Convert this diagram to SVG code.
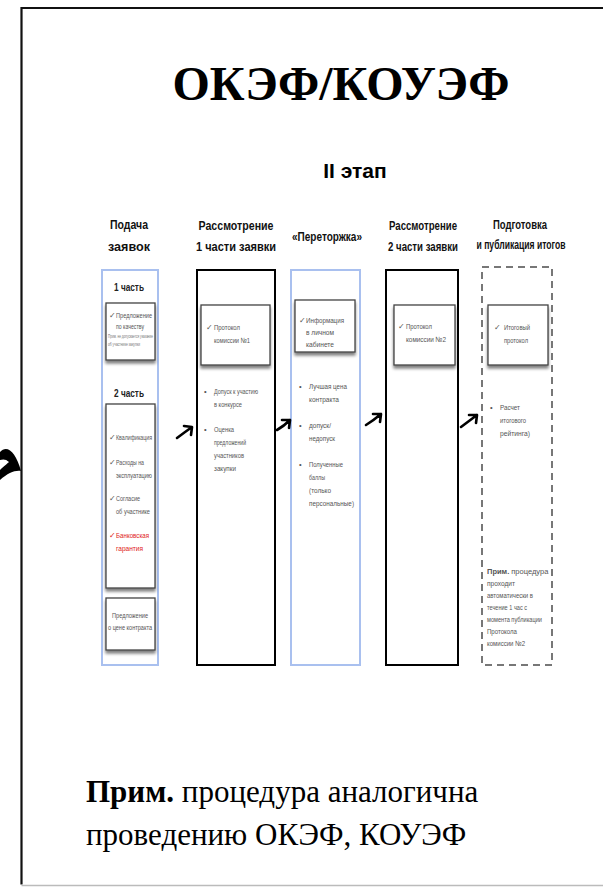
<svg xmlns="http://www.w3.org/2000/svg" width="603" height="890" viewBox="0 0 603 890">
<style>
.title{font-family:"Liberation Serif",serif;font-weight:bold;font-size:48px;fill:#000}
.stage{font-family:"Liberation Sans",sans-serif;font-weight:bold;font-size:21px;fill:#000}
.hdr{font-family:"Liberation Sans",sans-serif;font-weight:bold;font-size:13px;fill:#111;text-anchor:middle}
.sub{font-family:"Liberation Sans",sans-serif;font-weight:bold;font-size:10px;fill:#222;text-anchor:middle}
.t{font-family:"Liberation Sans",sans-serif;font-size:7.5px;fill:#555}
.ts{font-family:"Liberation Sans",sans-serif;font-size:5px;fill:#777}
.red{fill:#e02020}
.note{font-family:"Liberation Serif",serif;font-size:31px;fill:#000}
.blue{fill:#fff;stroke:#a9c0ef;stroke-width:2}
.black{fill:#fff;stroke:#000;stroke-width:2}
.dash{fill:#fff;stroke:#777;stroke-width:2;stroke-dasharray:7,5}
.inner{fill:#fff;stroke:#444;stroke-width:1.3;filter:url(#sh)}
.arr{fill:none;stroke:#000;stroke-width:2.6;stroke-linecap:round;stroke-linejoin:round}
</style>
<defs>
<filter id="sh" x="-10%" y="-10%" width="130%" height="130%">
<feGaussianBlur in="SourceAlpha" stdDeviation="1.5"/>
<feOffset dx="0" dy="3" result="b"/>
<feComponentTransfer><feFuncA type="linear" slope="0.5"/></feComponentTransfer>
<feMerge><feMergeNode/><feMergeNode in="SourceGraphic"/></feMerge>
</filter>
</defs>
<rect width="603" height="890" fill="#fff"/>
<path d="M604 8 H21.5 V884.5" fill="none" stroke="#111" stroke-width="2.2"/>
<path d="M21.5 885.5 H604" fill="none" stroke="#bbb" stroke-width="1.5"/>
<path d="M0 452 C7 444 16 452 21 471 C15 470 8 473 0 480 L0 470 C4 466 8 463 9 462 C6 459 3 459 0 460 Z" fill="#000"/>

<text class="title" x="341" y="100" text-anchor="middle">ОКЭФ/КОУЭФ</text>
<text class="stage" x="355" y="178" text-anchor="middle">II этап</text>

<g id="col1">
<text class="hdr" x="129" y="229" textLength="38" lengthAdjust="spacingAndGlyphs">Подача</text>
<text class="hdr" x="129" y="251" textLength="42" lengthAdjust="spacingAndGlyphs">заявок</text>
<rect class="blue" x="102" y="270" width="56" height="395"/>
<text class="sub" x="129" y="291" textLength="30" lengthAdjust="spacingAndGlyphs">1 часть</text>
<rect class="inner" x="106" y="303" width="49" height="57"/>
<text class="t" x="109" y="318">✓</text>
<text class="t" x="116" y="318" textLength="36" lengthAdjust="spacingAndGlyphs">Предложение</text>
<text class="t" x="116" y="329" textLength="28" lengthAdjust="spacingAndGlyphs">по качеству</text>
<text class="ts" x="108" y="338" textLength="45" lengthAdjust="spacingAndGlyphs">Прим. не допускается указание</text>
<text class="ts" x="108" y="346" textLength="32" lengthAdjust="spacingAndGlyphs">об участнике закупки</text>
<text class="sub" x="129" y="397" textLength="30" lengthAdjust="spacingAndGlyphs">2 часть</text>
<rect class="inner" x="106" y="404" width="49" height="184"/>
<text class="t" x="109" y="440">✓</text>
<text class="t" x="116" y="440" textLength="36" lengthAdjust="spacingAndGlyphs">Квалификация</text>
<text class="t" x="109" y="465">✓</text>
<text class="t" x="116" y="465" textLength="28" lengthAdjust="spacingAndGlyphs">Расходы на</text>
<text class="t" x="116" y="478" textLength="36" lengthAdjust="spacingAndGlyphs">эксплуатацию</text>
<text class="t" x="109" y="501">✓</text>
<text class="t" x="116" y="501" textLength="24" lengthAdjust="spacingAndGlyphs">Согласие</text>
<text class="t" x="116" y="514" textLength="34" lengthAdjust="spacingAndGlyphs">об участнике</text>
<text class="t red" x="109" y="538">✓</text>
<text class="t red" x="116" y="538" textLength="33" lengthAdjust="spacingAndGlyphs">Банковская</text>
<text class="t red" x="116" y="551" textLength="27" lengthAdjust="spacingAndGlyphs">гарантия</text>
<rect class="inner" x="106" y="598" width="49" height="52"/>
<text class="t" x="130" y="618" text-anchor="middle" textLength="36" lengthAdjust="spacingAndGlyphs">Предложение</text>
<text class="t" x="130" y="630" text-anchor="middle" textLength="44" lengthAdjust="spacingAndGlyphs">о цене контракта</text>
</g>

<g id="col2">
<text class="hdr" x="236" y="230" textLength="75" lengthAdjust="spacingAndGlyphs">Рассмотрение</text>
<text class="hdr" x="236" y="251" textLength="80" lengthAdjust="spacingAndGlyphs">1 части заявки</text>
<rect class="black" x="197" y="270" width="78" height="395"/>
<rect class="inner" x="201" y="305" width="69" height="60"/>
<text class="t" x="206" y="330">✓</text>
<text class="t" x="214" y="330" textLength="26" lengthAdjust="spacingAndGlyphs">Протокол</text>
<text class="t" x="214" y="343" textLength="36" lengthAdjust="spacingAndGlyphs">комиссии №1</text>
<text class="t" x="204" y="394">•</text>
<text class="t" x="214" y="394" textLength="44" lengthAdjust="spacingAndGlyphs">Допуск к участию</text>
<text class="t" x="214" y="407" textLength="28" lengthAdjust="spacingAndGlyphs">в конкурсе</text>
<text class="t" x="204" y="432">•</text>
<text class="t" x="214" y="432" textLength="20" lengthAdjust="spacingAndGlyphs">Оценка</text>
<text class="t" x="214" y="445" textLength="32" lengthAdjust="spacingAndGlyphs">предложений</text>
<text class="t" x="214" y="458" textLength="30" lengthAdjust="spacingAndGlyphs">участников</text>
<text class="t" x="214" y="471" textLength="22" lengthAdjust="spacingAndGlyphs">закупки</text>
</g>

<g id="col3">
<text class="hdr" x="327" y="241" textLength="70" lengthAdjust="spacingAndGlyphs">«Переторжка»</text>
<rect class="blue" x="291" y="270" width="69" height="395"/>
<rect class="inner" x="295" y="300" width="60" height="52"/>
<text class="t" x="299" y="323">✓</text>
<text class="t" x="306" y="323" textLength="38" lengthAdjust="spacingAndGlyphs">Информация</text>
<text class="t" x="306" y="335" textLength="28" lengthAdjust="spacingAndGlyphs">в личном</text>
<text class="t" x="306" y="347" textLength="28" lengthAdjust="spacingAndGlyphs">кабинете</text>
<text class="t" x="299" y="389">•</text>
<text class="t" x="309" y="389" textLength="38" lengthAdjust="spacingAndGlyphs">Лучшая цена</text>
<text class="t" x="309" y="402" textLength="30" lengthAdjust="spacingAndGlyphs">контракта</text>
<text class="t" x="299" y="428">•</text>
<text class="t" x="309" y="428" textLength="22" lengthAdjust="spacingAndGlyphs">допуск/</text>
<text class="t" x="309" y="441" textLength="26" lengthAdjust="spacingAndGlyphs">недопуск</text>
<text class="t" x="299" y="467">•</text>
<text class="t" x="309" y="467" textLength="34" lengthAdjust="spacingAndGlyphs">Полученные</text>
<text class="t" x="309" y="480" textLength="16" lengthAdjust="spacingAndGlyphs">баллы</text>
<text class="t" x="309" y="493" textLength="22" lengthAdjust="spacingAndGlyphs">(только</text>
<text class="t" x="309" y="506" textLength="45" lengthAdjust="spacingAndGlyphs">персональные)</text>
</g>

<g id="col4">
<text class="hdr" x="423" y="230" textLength="68" lengthAdjust="spacingAndGlyphs">Рассмотрение</text>
<text class="hdr" x="423" y="251" textLength="70" lengthAdjust="spacingAndGlyphs">2 части заявки</text>
<rect class="black" x="386" y="270" width="72" height="395"/>
<rect class="inner" x="394" y="305" width="61" height="60"/>
<text class="t" x="398" y="329">✓</text>
<text class="t" x="406" y="329" textLength="26" lengthAdjust="spacingAndGlyphs">Протокол</text>
<text class="t" x="406" y="342" textLength="40" lengthAdjust="spacingAndGlyphs">комиссии №2</text>
</g>

<g id="col5">
<text class="hdr" x="520" y="229" textLength="54" lengthAdjust="spacingAndGlyphs">Подготовка</text>
<text class="hdr" transform="translate(521 249) scale(0.66 1)" x="0" y="0">и публикация итогов</text>
<rect class="dash" x="482" y="267" width="70" height="398"/>
<rect class="inner" x="488" y="305" width="60" height="60"/>
<text class="t" x="494" y="330">✓</text>
<text class="t" x="504" y="330" textLength="26" lengthAdjust="spacingAndGlyphs">Итоговый</text>
<text class="t" x="504" y="343" textLength="24" lengthAdjust="spacingAndGlyphs">протокол</text>
<text class="t" x="490" y="410">•</text>
<text class="t" x="500" y="410" textLength="20" lengthAdjust="spacingAndGlyphs">Расчет</text>
<text class="t" x="500" y="423" textLength="26" lengthAdjust="spacingAndGlyphs">итогового</text>
<text class="t" x="500" y="436" textLength="30" lengthAdjust="spacingAndGlyphs">рейтинга)</text>
<text class="t" x="487" y="574"><tspan font-weight="bold">Прим.</tspan> процедура</text>
<text class="t" x="487" y="586" textLength="28" lengthAdjust="spacingAndGlyphs">проходит</text>
<text class="t" x="487" y="598" textLength="46" lengthAdjust="spacingAndGlyphs">автоматически в</text>
<text class="t" x="487" y="610" textLength="40" lengthAdjust="spacingAndGlyphs">течение 1 час с</text>
<text class="t" x="487" y="622" textLength="55" lengthAdjust="spacingAndGlyphs">момента публикации</text>
<text class="t" x="487" y="634" textLength="30" lengthAdjust="spacingAndGlyphs">Протокола</text>
<text class="t" x="487" y="646" textLength="38" lengthAdjust="spacingAndGlyphs">комиссии №2</text>
</g>

<g id="connectors">
<path class="arr" d="M177 438 Q185 432 192 427 M184 426 L192 427 L191 435"/>
<path class="arr" d="M277 430 Q284 426 290 420 M282 420 L290 420 L289 428"/>
<path class="arr" d="M366 425 Q374 420 381 414 M373 414 L381 414 L380 422"/>
<path class="arr" d="M461 427 Q469 421 477 415 M469 415 L477 415 L476 423"/>
</g>

<text class="note" x="86" y="802"><tspan font-weight="bold">Прим.</tspan> процедура аналогична</text>
<text class="note" x="86" y="845">проведению ОКЭФ, КОУЭФ</text>
</svg>
